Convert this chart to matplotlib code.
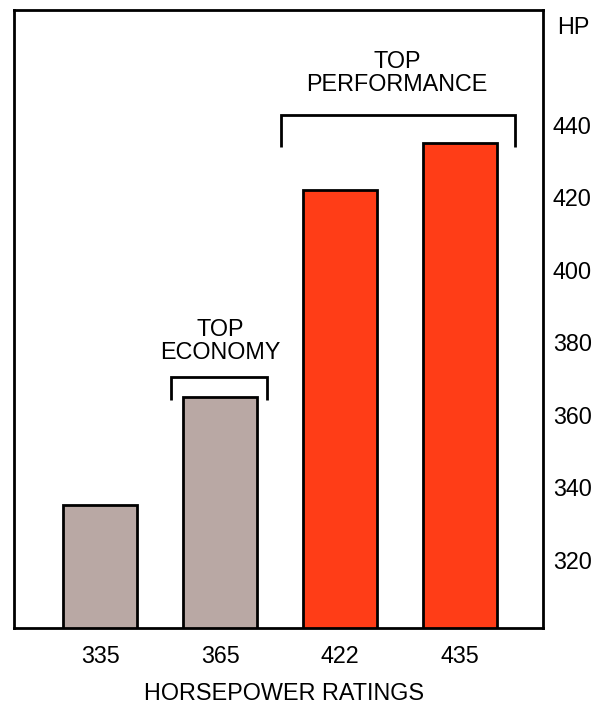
import matplotlib
matplotlib.use("Agg")
import matplotlib.pyplot as plt

# Horsepower ratings shown as bars
ratings = ["335", "365", "422", "435"]
horsepower = [335, 365, 422, 435]
groups = ["economy", "economy", "performance", "performance"]
group_colors = {"economy": "#b9a8a4", "performance": "#ff3d17"}

y_ticks = [320, 340, 360, 380, 400, 420, 440]

plt.rcParams["font.family"] = ["Liberation Sans", "DejaVu Sans"]
FS = 16.8

fig = plt.figure(figsize=(5.97, 7.06), dpi=100)
ax = fig.add_axes([14 / 597, 1 - 628 / 706, (543 - 14) / 597, (628 - 10) / 706])

x = list(range(len(horsepower)))
ax.bar(x, horsepower, width=0.62,
       color=[group_colors[g] for g in groups],
       edgecolor="black", linewidth=2.0, zorder=2)

ax.set_xlim(-0.717, 3.69)
ax.set_ylim(301.2, 471.7)

ax.set_xticks(x)
ax.set_xticklabels(ratings, fontsize=FS)
ax.tick_params(axis="x", length=0, pad=12)

ax.yaxis.tick_right()
ax.set_yticks(y_ticks)
ax.set_yticklabels([str(v) for v in y_ticks], fontsize=FS)
ax.tick_params(axis="y", length=0, pad=7)

for s in ax.spines.values():
    s.set_linewidth(2.0)
    s.set_color("black")

# Brackets over the two groups
def bracket(x0, x1, y_top, y_bot, label, label_x, label_y):
    ax.plot([x0, x0, x1, x1], [y_bot, y_top, y_top, y_bot],
            color="black", linewidth=2.0, solid_joinstyle="miter",
            solid_capstyle="butt", zorder=3, clip_on=False)
    ax.text(label_x, label_y, label, ha="center", va="bottom",
            fontsize=FS, linespacing=1.0, multialignment="center")

bracket(0.59, 1.39, 370.5, 364.0, "TOP\nECONOMY", 1.0, 374.0)
bracket(1.51, 3.46, 442.8, 433.9, "TOP\nPERFORMANCE", 2.475, 448.0)

fig.text(557 / 597, 1 - 27 / 706, "HP", fontsize=FS, ha="left", va="center")
fig.text(284.5 / 597, 0.008, "HORSEPOWER RATINGS", fontsize=FS,
         ha="center", va="baseline")

fig.savefig("out.png", dpi=100, facecolor="white")
